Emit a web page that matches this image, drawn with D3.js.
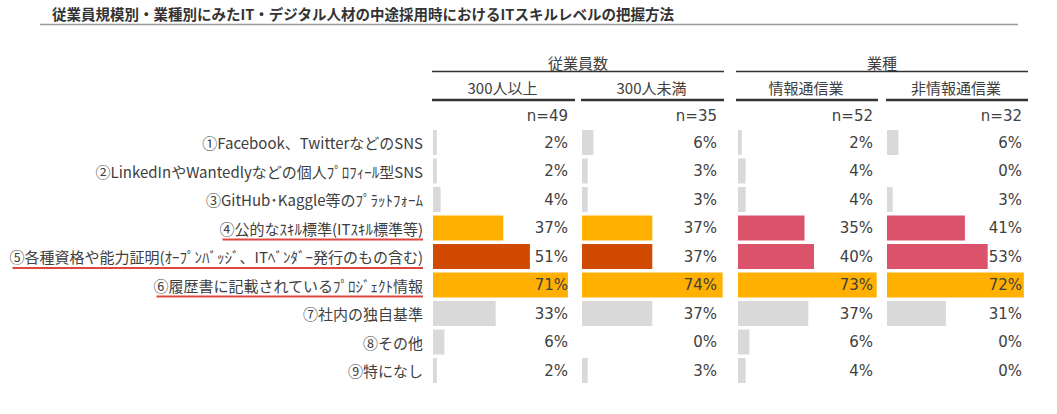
<!DOCTYPE html>
<html><head><meta charset="utf-8">
<script src="https://cdn.jsdelivr.net/npm/d3@7"></script>
<style>
body{margin:0;background:#fff;}
svg{display:block;}
</style></head>
<body>
<svg id="c" width="1057" height="414"></svg>
<script>
const title = "従業員規模別・業種別にみたIT・デジタル人材の中途採用時におけるITスキルレベルの把握方法";
const categories = [
  "①Facebook、TwitterなどのSNS",
  "②LinkedInやWantedlyなどの個人ﾌﾟﾛﾌｨｰﾙ型SNS",
  "③GitHub･Kaggle等のﾌﾟﾗｯﾄﾌｫｰﾑ",
  "④公的なｽｷﾙ標準(ITｽｷﾙ標準等)",
  "⑤各種資格や能力証明(ｵｰﾌﾟﾝﾊﾞｯｼﾞ、ITﾍﾞﾝﾀﾞｰ発行のもの含む)",
  "⑥履歴書に記載されているﾌﾟﾛｼﾞｪｸﾄ情報",
  "⑦社内の独自基準",
  "⑧その他",
  "⑨特になし"
];
const groups = ["従業員数", "業種"];
const seriesNames = ["300人以上", "300人未満", "情報通信業", "非情報通信業"];
const seriesGroup = [0, 0, 1, 1];
const sampleSizes = ["n=49", "n=35", "n=52", "n=32"];
const values300plus = [2, 2, 4, 37, 51, 71, 33, 6, 2];
const values300minus = [6, 3, 3, 37, 37, 74, 37, 0, 3];
const valuesIT = [2, 4, 4, 35, 40, 73, 37, 6, 4];
const valuesNonIT = [6, 0, 3, 41, 53, 72, 31, 0, 0];
const series = [values300plus, values300minus, valuesIT, valuesNonIT];
const underlined = [3, 4, 5];

// styling
const GRAY = "#d9d9d9", ORANGE = "#ffb000", DARKORANGE = "#d04a02", PINK = "#db536a";
function barColor(col, row) {
  if (seriesGroup[col] === 0) {
    if (row === 3 || row === 5) return ORANGE;
    if (row === 4) return DARKORANGE;
  } else {
    if (row === 3 || row === 4) return PINK;
    if (row === 5) return ORANGE;
  }
  return GRAY;
}

const svg = d3.select("#c");
const TXT = "#404040";
const JP = "'Noto Sans CJK JP','Noto Sans',sans-serif";
const NUM = "'DejaVu Sans','Noto Sans CJK JP',sans-serif";

// title
svg.append("text").attr("x", 52).attr("y", 20)
  .attr("font-family", JP).attr("font-size", 14.5).attr("font-weight", 700)
  .attr("fill", "#333").text(title);
svg.append("line").attr("x1", 40).attr("x2", 1018).attr("y1", 24.5).attr("y2", 24.5)
  .attr("stroke", "#999").attr("stroke-width", 1.5);

// column layout
const colStarts = [433, 582, 738, 887];
const xScales = colStarts.map(s => d3.scaleLinear().domain([0, 100]).range([s, s + 190]));
const labelOffset = 135;

const y = d3.scaleBand().domain(categories).range([128.25, 384.75]).paddingInner(0.123).paddingOuter(0.0615);

// group headers
const groupSpans = [[432, 724], [736, 1028]];
groups.forEach((g, i) => {
  const [a, b] = groupSpans[i];
  svg.append("text").attr("x", (a + b) / 2).attr("y", 62).attr("text-anchor", "middle")
    .attr("dominant-baseline", "central").attr("font-family", JP).attr("font-size", 15)
    .attr("fill", TXT).text(g);
  svg.append("line").attr("x1", a).attr("x2", b).attr("y1", 71.5).attr("y2", 71.5)
    .attr("stroke", "#333").attr("stroke-width", 1.3);
});
const subSpans = [[432, 575], [581, 724], [736, 878], [886, 1028]];
seriesNames.forEach((s, i) => {
  const [a, b] = subSpans[i];
  svg.append("text").attr("x", (a + b) / 2 - 1).attr("y", 87).attr("text-anchor", "middle")
    .attr("dominant-baseline", "central").attr("font-family", JP).attr("font-size", 15)
    .attr("fill", TXT).text(s);
  svg.append("line").attr("x1", a).attr("x2", b).attr("y1", 100).attr("y2", 100)
    .attr("stroke", "#333").attr("stroke-width", 2.5);
  svg.append("text").attr("x", colStarts[i] + labelOffset).attr("y", 116).attr("text-anchor", "end")
    .attr("dominant-baseline", "central").attr("font-family", NUM).attr("font-size", 15)
    .attr("fill", TXT).text(sampleSizes[i]);
});

// category labels
const lab = svg.append("g");
categories.forEach((c, r) => {
  const cy = y(c) + y.bandwidth() / 2;
  const t = lab.append("text").attr("x", 423).attr("y", cy).attr("text-anchor", "end")
    .attr("dominant-baseline", "central").attr("font-family", JP).attr("font-size", 15)
    .attr("fill", TXT).text(c);
  if (underlined.includes(r)) {
    const bb = t.node().getBBox();
    lab.append("line").attr("x1", bb.x + 3).attr("x2", 423).attr("y1", cy + 11.5).attr("y2", cy + 11.5)
      .attr("stroke", "#e0473e").attr("stroke-width", 2);
  }
});

// bars
series.forEach((vals, i) => {
  const x = xScales[i];
  const g = svg.append("g");
  g.selectAll("rect").data(vals).join("rect")
    .attr("x", x(0)).attr("y", (d, r) => y(categories[r]))
    .attr("width", d => x(d) - x(0)).attr("height", y.bandwidth())
    .attr("fill", (d, r) => barColor(i, r));
  g.selectAll("text").data(vals).join("text")
    .attr("x", colStarts[i] + labelOffset)
    .attr("y", (d, r) => y(categories[r]) + y.bandwidth() / 2)
    .attr("text-anchor", "end").attr("dominant-baseline", "central")
    .attr("font-family", NUM).attr("font-size", 15).attr("fill", TXT)
    .text(d => d + "%");
});
</script>
</body></html>
